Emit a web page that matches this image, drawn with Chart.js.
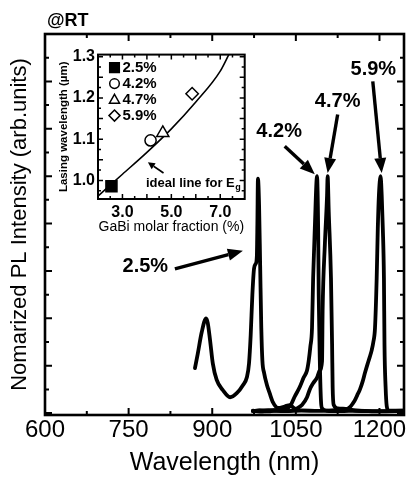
<!DOCTYPE html>
<html><head><meta charset="utf-8">
<script src="https://cdn.jsdelivr.net/npm/chart.js"></script>
<style>
html,body{margin:0;padding:0;background:#fff;}
#wrap{position:relative;width:408px;height:480px;overflow:hidden;}
#main{position:absolute;left:0;top:0;}
#inset{position:absolute;left:54px;top:42px;}
</style></head><body>
<div id="wrap">
<canvas id="main" width="408" height="480"></canvas>
<canvas id="inset" width="200" height="200"></canvas>
</div>
<script>
// ---------- main chart data (wavelength nm, normalized PL) ----------
const seriesNames = ['2.5%', '4.2%', '4.7%', '5.9%'];
const wl25 = [869,874,881,889,892,896,901,908,919,932,944,955,962,966,969,972,975,978,980,981,982,984,986,988,990,993,998,1003,1009,1018,1030,1039,1046,1052];
const pl25 = [0.19,0.25,0.34,0.40,0.38,0.31,0.21,0.14,0.097,0.067,0.084,0.118,0.15,0.21,0.33,0.50,0.61,0.63,0.66,0.80,0.99,0.88,0.62,0.36,0.22,0.17,0.12,0.084,0.045,0.022,0.028,0.034,0.022,0.012];
const wl42 = [973,985,1000,1015,1030,1040,1048,1057,1064,1070,1073,1076,1079,1081,1084,1088,1090,1091,1093,1095,1097,1105,1130,1160,1200,1243];
const pl42 = [0.008,0.011,0.007,0.012,0.015,0.03,0.07,0.11,0.15,0.18,0.22,0.28,0.36,0.57,0.78,1.0,0.78,0.50,0.22,0.055,0.02,0.01,0.008,0.01,0.007,0.009];
const wl47 = [973,990,1010,1030,1045,1052,1061,1070,1075,1081,1088,1093,1097,1098,1102,1106,1107,1109,1113,1115,1116,1118,1125,1143,1160,1200,1243];
const pl47 = [0.01,0.006,0.012,0.008,0.012,0.02,0.034,0.067,0.10,0.126,0.15,0.18,0.22,0.43,0.71,0.92,1.0,0.85,0.57,0.29,0.11,0.034,0.02,0.017,0.01,0.008,0.01];
const wl59 = [973,1000,1030,1060,1090,1120,1140,1147,1152,1156,1160,1165,1170,1174,1179,1183,1186,1189,1192,1195,1197,1199,1202,1204,1206,1208,1209,1211,1213,1216,1230,1243];
const pl59 = [0.009,0.012,0.008,0.011,0.009,0.012,0.015,0.025,0.04,0.055,0.075,0.10,0.135,0.17,0.21,0.24,0.265,0.30,0.36,0.57,0.78,0.92,1.0,0.92,0.78,0.57,0.29,0.11,0.03,0.012,0.01,0.01];
const xMajorTicks = [600, 750, 900, 1050, 1200];
const xMinorTicks = [675, 825, 975, 1125];
const yTicks = [0, 0.1, 0.2, 0.3, 0.4, 0.5, 0.6, 0.7, 0.8, 0.9, 1.0, 1.1, 1.2, 1.3, 1.4, 1.5];

// ---------- inset data ----------
const fraction = [2.55, 4.15, 4.65, 5.85];
const lasingUm = [0.986, 1.097, 1.115, 1.21];
const idealFrac = [2.0, 3.0, 4.0, 5.0, 6.0, 7.0, 7.35];
const idealUm = [0.962, 1.015, 1.068, 1.125, 1.19, 1.265, 1.305];
const insetXTicks = [2.5, 3.0, 3.5, 4.0, 4.5, 5.0, 5.5, 6.0, 6.5, 7.0, 7.5];
const insetXLabels = ['3.0', '5.0', '7.0'];
const insetYTicks = [0.975, 1.0, 1.025, 1.05, 1.075, 1.1, 1.125, 1.15, 1.175, 1.2, 1.225, 1.25, 1.275, 1.3];
const insetYLabels = ['1.0', '1.1', '1.2', '1.3'];

// ---------- annotations (data units) ----------
const mainNotes = [
  {text:'2.5%', tx:780,  ty:0.618, from:[833,0.609],  to:[955,0.685]},
  {text:'4.2%', tx:1020, ty:1.189, from:[1030,1.126], to:[1084,1.008]},
  {text:'4.7%', tx:1125, ty:1.315, from:[1125,1.26],  to:[1107,1.013]},
  {text:'5.9%', tx:1189, ty:1.452, from:[1188,1.40],  to:[1204,1.013]}
];
const insetNote = {tx:3.96, ty:0.9926, from:[4.68,1.018], to:[4.04,1.044]};

const FONT = "'Liberation Sans', Arial, Helvetica, sans-serif";
Chart.defaults.font.family = FONT;
Chart.defaults.color = '#000';

const pts = (xs, ys) => xs.map((x, i) => ({x: x, y: ys[i]}));
const setTicks = list => s => { s.ticks = list.slice().sort((a, b) => a - b).map(v => ({value: v})); };
const lbl = (v, labels) => { const s = Number(v).toFixed(1); return labels.includes(s) ? s : ''; };

function arrow(ctx, x1, y1, x2, y2, lw, hl, hw) {
  const a = Math.atan2(y2 - y1, x2 - x1);
  const bx = x2 - hl * Math.cos(a), by = y2 - hl * Math.sin(a);
  ctx.lineWidth = lw;
  ctx.beginPath(); ctx.moveTo(x1, y1); ctx.lineTo(bx, by); ctx.stroke();
  ctx.beginPath(); ctx.moveTo(x2, y2);
  ctx.lineTo(bx + hw * Math.sin(a), by - hw * Math.cos(a));
  ctx.lineTo(bx - hw * Math.sin(a), by + hw * Math.cos(a));
  ctx.closePath(); ctx.fill();
}

function makeFrame(o) {
  return {
    id: 'frame_' + o.name,
    afterDatasetsDraw(chart) {
      const ctx = chart.ctx, a = chart.chartArea, xs = chart.scales.x, ys = chart.scales.y;
      ctx.save();
      ctx.strokeStyle = '#000';
      ctx.lineWidth = o.tickWidth;
      ctx.beginPath();
      xs.ticks.forEach(t => {
        const v = t.value;
        if (v <= xs.min + 1e-9 || v >= xs.max - 1e-9) return;
        const p = xs.getPixelForValue(v);
        const L = o.majorX(v) ? o.major : o.minor;
        ctx.moveTo(p, a.bottom); ctx.lineTo(p, a.bottom - L);
        ctx.moveTo(p, a.top); ctx.lineTo(p, a.top + L);
      });
      ys.ticks.forEach(t => {
        const v = t.value;
        if (v <= ys.min + 1e-9 || v >= ys.max - 1e-9) return;
        const p = ys.getPixelForValue(v);
        const L = o.majorY(v) ? o.major : o.minor;
        ctx.moveTo(a.left, p); ctx.lineTo(a.left + L, p);
        ctx.moveTo(a.right, p); ctx.lineTo(a.right - L, p);
      });
      ctx.stroke();
      ctx.lineWidth = o.frameWidth;
      ctx.strokeRect(a.left, a.top, a.right - a.left, a.bottom - a.top);
      ctx.restore();
    }
  };
}

const mainNotesPlugin = {
  id: 'mainNotes',
  afterDraw(chart) {
    const ctx = chart.ctx, xs = chart.scales.x, ys = chart.scales.y, a = chart.chartArea;
    ctx.save();
    ctx.fillStyle = '#000'; ctx.strokeStyle = '#000';
    ctx.font = 'bold 20px ' + FONT;
    ctx.textAlign = 'center'; ctx.textBaseline = 'middle';
    mainNotes.forEach(n => {
      ctx.fillText(n.text, xs.getPixelForValue(n.tx), ys.getPixelForValue(n.ty));
      arrow(ctx, xs.getPixelForValue(n.from[0]), ys.getPixelForValue(n.from[1]),
            xs.getPixelForValue(n.to[0]), ys.getPixelForValue(n.to[1]), 3.4, 15, 6);
    });
    ctx.font = 'bold 18px ' + FONT;
    ctx.textAlign = 'left';
    ctx.fillText('@RT', a.left + 2, a.top - 12.5);
    ctx.restore();
  }
};

const mainDatasets = [
  [wl25, pl25], [wl42, pl42], [wl47, pl47], [wl59, pl59]
].map((s, i) => ({
  label: seriesNames[i],
  data: pts(s[0], s[1]),
  borderColor: '#000',
  borderWidth: 3.8,
  pointRadius: 0,
  fill: false,
  cubicInterpolationMode: 'monotone',
  borderJoinStyle: 'round',
  borderCapStyle: 'round'
}));

new Chart(document.getElementById('main'), {
  type: 'line',
  data: {datasets: mainDatasets},
  options: {
    responsive: false, animation: false,
    layout: {padding: {top: 34, right: 4, left: 0, bottom: 0}},
    plugins: {legend: {display: false}, tooltip: {enabled: false}},
    scales: {
      x: {
        type: 'linear', min: 600, max: 1244,
        afterBuildTicks: setTicks(xMajorTicks.concat(xMinorTicks)),
        ticks: {autoSkip: false, maxRotation: 0, minRotation: 0, padding: 1,
          font: {size: 24}, color: '#000',
          callback: v => xMajorTicks.includes(Math.round(v)) ? String(Math.round(v)) : ''},
        grid: {display: false, drawTicks: false}, border: {display: false},
        title: {display: true, text: 'Wavelength (nm)', font: {size: 25}, color: '#000', padding: {top: 0, bottom: 2}},
        afterFit: s => { s.height = 65; }
      },
      y: {
        type: 'linear', min: -0.008, max: 1.6,
        afterBuildTicks: setTicks(yTicks),
        ticks: {display: false, autoSkip: false},
        grid: {display: false, drawTicks: false}, border: {display: false},
        title: {display: true, text: 'Nomarized PL Intensity (arb.units)', font: {size: 22}, color: '#000', padding: {top: 7, bottom: 0}},
        afterFit: s => { s.width = 45; }
      }
    }
  },
  plugins: [
    makeFrame({name: 'main', tickWidth: 2, frameWidth: 2.6, major: 7, minor: 4,
      majorX: v => xMajorTicks.includes(Math.round(v)), majorY: v => Math.round(v * 10) % 2 === 0}),
    mainNotesPlugin
  ]
});

// ---------- inset ----------
const markerStyles = ['rect', 'circle', 'triangle', 'rectRot'];
const markerRadius = [7.8, 5.6, 7, 6.2];
const markerFill = ['#000', '#fff', '#fff', '#fff'];

function drawMarker(ctx, style, x, y, s, fill) {
  ctx.beginPath();
  if (style === 'rect') ctx.rect(x - s, y - s, 2 * s, 2 * s);
  else if (style === 'circle') ctx.arc(x, y, s, 0, Math.PI * 2);
  else if (style === 'triangle') { ctx.moveTo(x, y - s * 1.1); ctx.lineTo(x + s * 1.05, y + s * 0.75); ctx.lineTo(x - s * 1.05, y + s * 0.75); ctx.closePath(); }
  else { ctx.moveTo(x, y - s * 1.15); ctx.lineTo(x + s * 1.15, y); ctx.lineTo(x, y + s * 1.15); ctx.lineTo(x - s * 1.15, y); ctx.closePath(); }
  ctx.fillStyle = fill; ctx.fill();
  ctx.stroke();
}

const insetExtras = {
  id: 'insetExtras',
  afterDraw(chart) {
    const ctx = chart.ctx, a = chart.chartArea, xs = chart.scales.x, ys = chart.scales.y;
    ctx.save();
    ctx.strokeStyle = '#000'; ctx.lineWidth = 1.5;
    seriesNames.forEach((name, i) => {
      const cx = a.left + 16.5, cy = a.top + 13 + i * 16;
      drawMarker(ctx, markerStyles[i], cx, cy, 4.8, markerFill[i]);
      ctx.fillStyle = '#000';
      ctx.font = 'bold 15px ' + FONT;
      ctx.textAlign = 'left'; ctx.textBaseline = 'middle';
      ctx.fillText(name, a.left + 24.5, cy + 0.5);
    });
    const tx = xs.getPixelForValue(insetNote.tx), ty = ys.getPixelForValue(insetNote.ty);
    ctx.fillStyle = '#000';
    ctx.font = 'bold 13px ' + FONT;
    ctx.textAlign = 'left'; ctx.textBaseline = 'middle';
    const main = 'ideal line for E';
    ctx.fillText(main, tx, ty);
    const w = ctx.measureText(main).width;
    ctx.font = 'bold 9px ' + FONT;
    ctx.fillText('g', tx + w + 0.5, ty + 4);
    ctx.strokeStyle = '#000';
    arrow(ctx, xs.getPixelForValue(insetNote.from[0]), ys.getPixelForValue(insetNote.from[1]),
          xs.getPixelForValue(insetNote.to[0]), ys.getPixelForValue(insetNote.to[1]), 1.6, 7, 3.5);
    ctx.restore();
  }
};

const insetDatasets = fraction.map((f, i) => ({
  label: seriesNames[i],
  data: [{x: f, y: lasingUm[i]}],
  pointStyle: markerStyles[i],
  pointRadius: markerRadius[i],
  pointBackgroundColor: markerFill[i],
  pointBorderColor: '#000',
  pointBorderWidth: 1.5,
  showLine: false
}));
insetDatasets.push({
  label: 'ideal',
  data: pts(idealFrac, idealUm),
  showLine: true,
  borderColor: '#000',
  borderWidth: 1.6,
  pointRadius: 0,
  cubicInterpolationMode: 'monotone'
});

new Chart(document.getElementById('inset'), {
  type: 'scatter',
  data: {datasets: insetDatasets},
  options: {
    responsive: false, animation: false,
    layout: {padding: {top: 8, right: 6, left: 0, bottom: 0}},
    plugins: {legend: {display: false}, tooltip: {enabled: false}},
    scales: {
      x: {
        type: 'linear', min: 2, max: 8,
        afterBuildTicks: setTicks(insetXTicks),
        ticks: {autoSkip: false, maxRotation: 0, minRotation: 0, padding: 4,
          font: {size: 16, weight: 'bold'}, color: '#000',
          callback: v => lbl(v, insetXLabels)},
        grid: {display: false, drawTicks: false}, border: {display: false},
        title: {display: true, text: 'GaBi molar fraction (%)', font: {size: 14}, color: '#000', padding: {top: 0, bottom: 6}},
        afterFit: s => { s.height = 43; }
      },
      y: {
        type: 'linear', min: 0.955, max: 1.305,
        afterBuildTicks: setTicks(insetYTicks),
        ticks: {autoSkip: false, padding: 3,
          font: {size: 16, weight: 'bold'}, color: '#000',
          callback: v => (Math.abs(v * 10 - Math.round(v * 10)) < 1e-6 ? lbl(v, insetYLabels) : '')},
        grid: {display: false, drawTicks: false}, border: {display: false},
        title: {display: true, text: 'Lasing wavelength (µm)', font: {size: 11.5, weight: 'bold'}, color: '#000', padding: {top: 3, bottom: 0}},
        afterFit: s => { s.width = 44; }
      }
    }
  },
  plugins: [
    makeFrame({name: 'inset', tickWidth: 1.5, frameWidth: 2, major: 5, minor: 3,
      majorX: v => Math.abs(v - Math.round(v)) < 1e-6, majorY: v => Math.abs(v * 20 - Math.round(v * 20)) < 1e-6}),
    insetExtras
  ]
});
</script>
</body></html>
